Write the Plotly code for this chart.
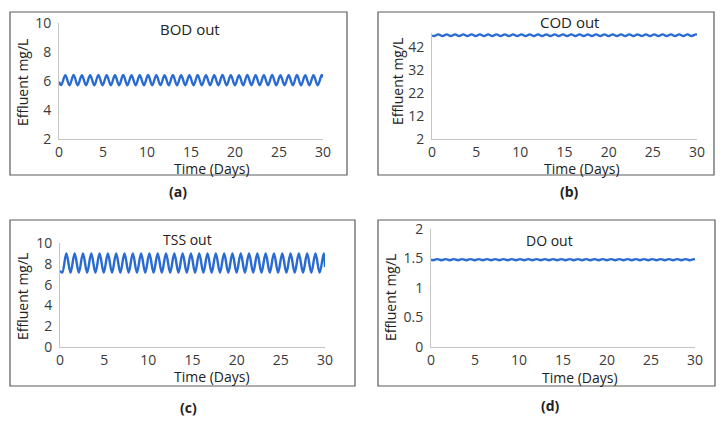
import plotly.graph_objects as go

# sample times (days): start, alternating trough/peak points, end
time_days = [0, 0.25, 0.72, 1.19, 1.66, 2.13, 2.60, 3.07, 3.54, 4.01, 4.48, 4.95,
             5.42, 5.89, 6.36, 6.83, 7.30, 7.77, 8.24, 8.71, 9.18, 9.65, 10.12,
             10.59, 11.06, 11.53, 12.00, 12.47, 12.94, 13.41, 13.88, 14.35, 14.82,
             15.29, 15.76, 16.23, 16.70, 17.17, 17.64, 18.11, 18.58, 19.05, 19.52,
             19.99, 20.46, 20.93, 21.40, 21.87, 22.34, 22.81, 23.28, 23.75, 24.22,
             24.69, 25.16, 25.63, 26.10, 26.57, 27.04, 27.51, 27.98, 28.45, 28.92,
             29.39, 29.86, 30]

bod_out = [5.95, 5.72, 6.40, 5.70, 6.41, 5.70, 6.40, 5.71, 6.40, 5.70, 6.41, 5.70,
           6.40, 5.70, 6.40, 5.71, 6.41, 5.70, 6.40, 5.70, 6.40, 5.70, 6.41,
           5.71, 6.40, 5.70, 6.40, 5.70, 6.41, 5.70, 6.40, 5.71, 6.40,
           5.70, 6.41, 5.70, 6.40, 5.70, 6.40, 5.71, 6.41, 5.70, 6.40,
           5.70, 6.40, 5.70, 6.41, 5.71, 6.40, 5.70, 6.40, 5.70, 6.41,
           5.70, 6.40, 5.71, 6.40, 5.70, 6.41, 5.70, 6.40, 5.70, 6.40,
           5.71, 6.41, 6.25]

cod_out = [47.1, 46.9, 47.6, 46.9, 47.6, 46.9, 47.6, 46.9, 47.6, 46.9, 47.6, 46.9,
           47.6, 46.9, 47.6, 46.9, 47.6, 46.9, 47.6, 46.9, 47.6, 46.9, 47.6,
           46.9, 47.6, 46.9, 47.6, 46.9, 47.6, 46.9, 47.6, 46.9, 47.6,
           46.9, 47.6, 46.9, 47.6, 46.9, 47.6, 46.9, 47.6, 46.9, 47.6,
           46.9, 47.6, 46.9, 47.6, 46.9, 47.6, 46.9, 47.6, 46.9, 47.6,
           46.9, 47.6, 46.9, 47.6, 46.9, 47.6, 46.9, 47.6, 46.9, 47.6,
           46.9, 47.6, 47.3]

tss_out = [7.35, 7.15, 9.00, 7.15, 9.00, 7.15, 9.00, 7.15, 9.00, 7.15, 9.00, 7.15,
           9.00, 7.15, 9.00, 7.15, 9.00, 7.15, 9.00, 7.15, 9.00, 7.15, 9.00,
           7.15, 9.00, 7.15, 9.00, 7.15, 9.00, 7.15, 9.00, 7.15, 9.00,
           7.15, 9.00, 7.15, 9.00, 7.15, 9.00, 7.15, 9.00, 7.15, 9.00,
           7.15, 9.00, 7.15, 9.00, 7.15, 9.00, 7.15, 9.00, 7.15, 9.00,
           7.15, 9.00, 7.15, 9.00, 7.15, 9.00, 7.15, 9.00, 7.15, 9.00,
           7.15, 9.00, 7.70]

do_out = [1.48, 1.47, 1.49, 1.47, 1.49, 1.47, 1.49, 1.47, 1.49, 1.47, 1.49, 1.47,
          1.49, 1.47, 1.49, 1.47, 1.49, 1.47, 1.49, 1.47, 1.49, 1.47, 1.49,
          1.47, 1.49, 1.47, 1.49, 1.47, 1.49, 1.47, 1.49, 1.47, 1.49,
          1.47, 1.49, 1.47, 1.49, 1.47, 1.49, 1.47, 1.49, 1.47, 1.49,
          1.47, 1.49, 1.47, 1.49, 1.47, 1.49, 1.47, 1.49, 1.47, 1.49,
          1.47, 1.49, 1.47, 1.49, 1.47, 1.49, 1.47, 1.49, 1.47, 1.49,
          1.47, 1.49, 1.48]

x_ticks = [0, 5, 10, 15, 20, 25, 30]

W, H = 724, 423
PAGE_MARGIN = 8  # the page body pushes the figure 8px right and down
FONT = "Open Sans, Noto Sans, sans-serif"
LINE_BLUE = "#2a6bd3"
TICK_COLOR = "#3a3a3a"


def px(x):
    return (x - PAGE_MARGIN) / W


def py(y):
    return 1 - (y - PAGE_MARGIN) / H


# panel: series, title, y range, y ticks, plot box (pixels), frame box, text spots
panels = [
    dict(y=bod_out, title="BOD out", yrange=[2, 10], yticks=[2, 4, 6, 8, 10],
         plot=(59, 323, 23, 139), frame=(10, 347, 12, 175),
         title_at=(190, 29), title_size=15, xlab_at=(212, 168), ylab_at=(22, 83),
         tag="(a)", tag_at=(178, 192)),
    dict(y=cod_out, title="COD out", yrange=[2, 48.2], yticks=[2, 12, 22, 32, 42],
         plot=(432, 697, 33, 139), frame=(378, 714, 12, 175),
         title_at=(569, 22), title_size=15, xlab_at=(582, 168), ylab_at=(397, 82),
         tag="(b)", tag_at=(569, 192)),
    dict(y=tss_out, title="TSS out", yrange=[0, 10], yticks=[0, 2, 4, 6, 8, 10],
         plot=(60, 325, 243, 347), frame=(10, 355, 220, 386),
         title_at=(187, 239), title_size=14, xlab_at=(212, 376), ylab_at=(22, 297),
         tag="(c)", tag_at=(188, 407)),
    dict(y=do_out, title="DO out", yrange=[0, 2], yticks=[0, 0.5, 1, 1.5, 2],
         plot=(431, 695, 229, 347), frame=(378, 715, 220, 386),
         title_at=(549, 240), title_size=14, xlab_at=(580, 377), ylab_at=(390, 298),
         tag="(d)", tag_at=(550, 405)),
]

fig = go.Figure()
annotations = []
shapes = []

for i, p in enumerate(panels, start=1):
    sfx = "" if i == 1 else str(i)
    x0, x1, y0, y1 = p["plot"]
    fig.add_trace(go.Scatter(
        x=time_days, y=p["y"], mode="lines",
        line=dict(color=LINE_BLUE, width=2.4, shape="spline", smoothing=1.0),
        xaxis="x" + sfx, yaxis="y" + sfx, showlegend=False, hoverinfo="skip",
    ))
    axis_common = dict(showgrid=False, zeroline=False, showline=True,
                       linecolor="#c4c4c4", linewidth=1, ticks="", automargin=False,
                       tickfont=dict(family=FONT, size=14, color=TICK_COLOR))
    fig.update_layout({
        "xaxis" + sfx: dict(axis_common, domain=[px(x0), px(x1)], range=[0, 30],
                            tickvals=x_ticks, anchor="y" + sfx, ticklabelstandoff=0),
        "yaxis" + sfx: dict(axis_common, domain=[py(y1), py(y0)], range=p["yrange"],
                            tickvals=p["yticks"], anchor="x" + sfx, ticklabelstandoff=4),
    })
    fx0, fx1, fy0, fy1 = p["frame"]
    shapes.append(dict(type="rect", xref="paper", yref="paper",
                       x0=px(fx0), x1=px(fx1), y0=py(fy1), y1=py(fy0),
                       line=dict(color="#5a5a5a", width=1.2)))
    annotations += [
        dict(text=p["title"], x=px(p["title_at"][0]), y=py(p["title_at"][1]),
             font=dict(family=FONT, size=p["title_size"], color="#222")),
        dict(text="Time (Days)", x=px(p["xlab_at"][0]), y=py(p["xlab_at"][1]),
             font=dict(family=FONT, size=14, color="#222")),
        dict(text="Effluent mg/L", x=px(p["ylab_at"][0]), y=py(p["ylab_at"][1]),
             textangle=-90, font=dict(family=FONT, size=14, color="#222")),
        dict(text="<b>" + p["tag"] + "</b>", x=px(p["tag_at"][0]), y=py(p["tag_at"][1]),
             font=dict(family=FONT, size=14, color="#222")),
    ]

for a in annotations:
    a.update(xref="paper", yref="paper", showarrow=False,
             xanchor="center", yanchor="middle")

fig.update_layout(
    width=W, height=H,
    margin=dict(l=0, r=0, t=0, b=0),
    paper_bgcolor="white", plot_bgcolor="white",
    annotations=annotations, shapes=shapes,
)

fig.write_html("out.html")
